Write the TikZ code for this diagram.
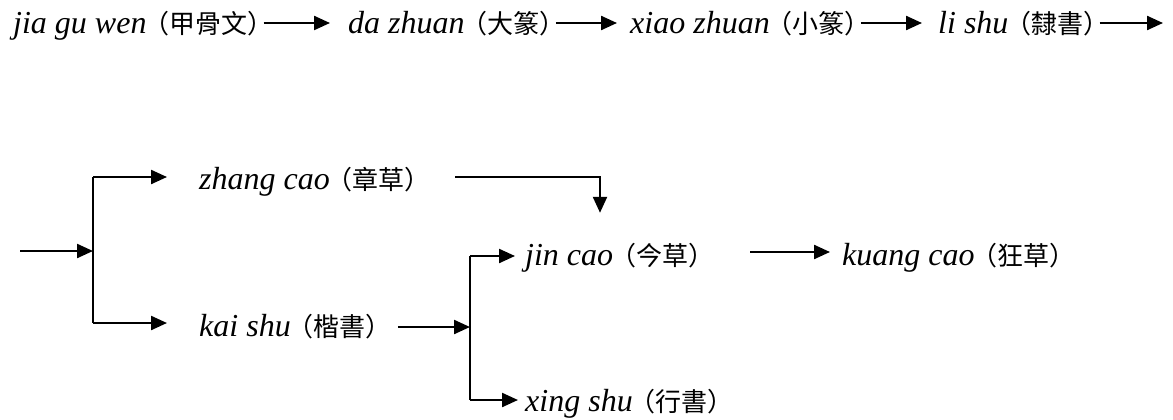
\documentclass[tikz,border=0pt]{standalone}
\usepackage{fontspec}
\setmainfont{Liberation Serif}
\newfontfamily\cjk{Noto Sans CJK TC}
\usetikzlibrary{arrows.meta}
\newcommand\lab[2]{\textit{#1}{\cjk\fontsize{26pt}{30pt}\selectfont \kern-3pt（#2）}}
\begin{document}
\begin{tikzpicture}[x=1pt,y=-1pt,
  txt/.style={inner sep=0pt,anchor=west,text height=28pt,text depth=6pt,
    font=\fontsize{32pt}{38pt}\selectfont},
  conn/.style={line width=2.3pt},
  arr/.style={conn,-{Triangle[length=16pt,width=14pt]}}]
\useasboundingbox (0,0) rectangle (1173,420);
% row 1
\node[txt] (a) at (13,23) {\lab{jia gu wen}{甲骨文}};
\node[txt] (b) at (348,23) {\lab{da zhuan}{大篆}};
\node[txt] (c) at (630,23) {\lab{xiao zhuan}{小篆}};
\node[txt] (d) at (938,23) {\lab{li shu}{隸書}};
\coordinate (dend) at (1163,23);
\draw[arr,shorten >=18pt,shorten <=-10pt] (a.east) -- (b.west);
\draw[arr,shorten >=13pt,shorten <=-10pt] (b.east) -- (c.west);
\draw[arr,shorten >=16pt,shorten <=-10pt] (c.east) -- (d.west);
\draw[arr,shorten <=-10pt] (d.east) -- (dend);
% row 2
\coordinate (in) at (20,251);
\coordinate (j1) at (93,251);
\coordinate (j1t) at (93,177);
\coordinate (j1b) at (93,323);
\node[txt] (zhang) at (199,178) {\lab{zhang cao}{章草}};
\node[txt] (kai) at (199,325) {\lab{kai shu}{楷書}};
\coordinate (j2) at (470,327);
\coordinate (j2t) at (470,256);
\coordinate (j2b) at (470,400);
\coordinate (zc) at (600,177);
\node[txt] (jin) at (525,254) {\lab{jin cao}{今草}};
\node[txt] (kuang) at (842,254) {\lab{kuang cao}{狂草}};
\node[txt] (xing) at (525,400) {\lab{xing shu}{行書}};
\draw[arr] (in) -- (j1);
\draw[conn] (j1t) -- (j1b);
\draw[arr,shorten >=32pt] (j1t) -- (j1t -| zhang.west);
\draw[arr,shorten >=32pt] (j1b) -- (j1b -| kai.west);
\draw[arr,shorten >=24pt] ([xshift=24pt]zhang.east |- zc) -- (zc) -- (zc |- jin.north);
\draw[arr] ([xshift=6pt]kai.east |- j2) -- (j2);
\draw[conn] (j2t) -- (j2b);
\draw[arr,shorten >=10pt] (j2t) -- (j2t -| jin.west);
\draw[arr,shorten >=7pt] (j2b) -- (j2b -| xing.west);
\draw[arr,shorten >=12pt,shorten <=36pt] (jin.east |- 0,252) -- (kuang.west |- 0,252);
\end{tikzpicture}
\end{document}
